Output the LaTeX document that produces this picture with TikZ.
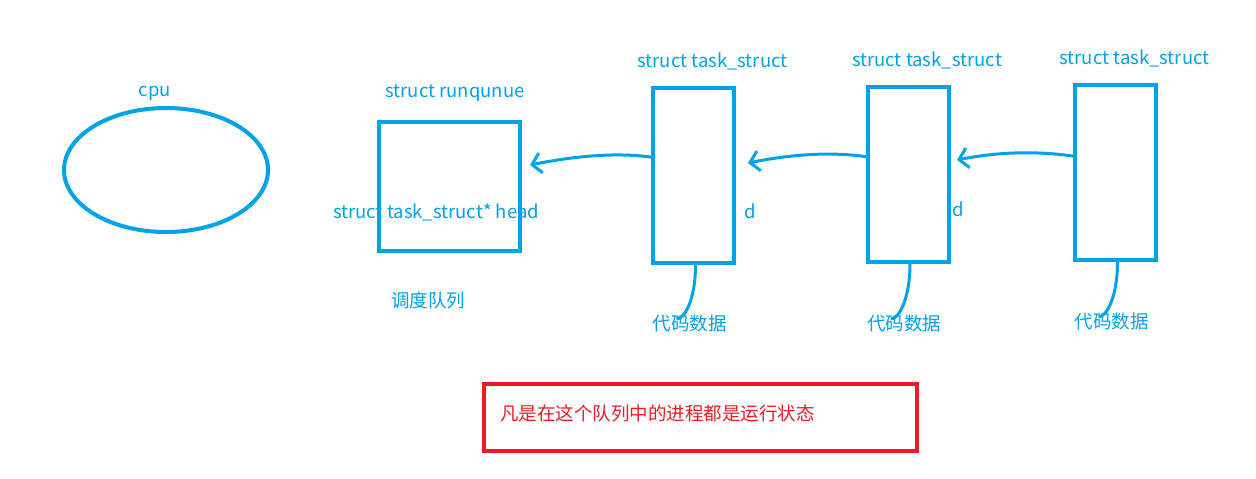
\documentclass[tikz,border=0pt]{standalone}
\usepackage{fontspec}
\setmainfont{Noto Sans CJK SC}
\usetikzlibrary{arrows.meta}
\definecolor{pb}{HTML}{00A2E8}
\definecolor{pr}{HTML}{ED1C24}
\begin{document}
\begin{tikzpicture}[x=1pt,y=-1pt,
  lbl/.style={text=pb,font=\fontsize{18.5}{21}\selectfont,inner sep=0pt},
  box/.style={draw=pb,line width=4pt,fill=white},
  arr/.style={draw=pb,line width=3pt,-{Straight Barb[length=9pt,width=20pt,line width=3pt]}},
  wig/.style={draw=pb,line width=3pt}]
\useasboundingbox (0,0) rectangle (1256,479);
\node[lbl] (cpul) at (155,93) {cpu};
\draw[pb,line width=4pt] (166,170) ellipse [x radius=102, y radius=62];
\node (cpu) at (166,170) {};
\node[lbl] (rql) at (455,93) {struct runqunue};
\node[lbl] (d1) at (750,211) {d};
\node[lbl] (d2) at (958,209) {d};
\node[box,minimum width=141pt,minimum height=129pt] (rq) at (449,186) {};
\node[lbl] (head) at (436,212) {struct task\_struct* head};
\node[lbl] (rqn) at (428,300) {调度队列};
\foreach \n/\x/\y/\ly/\dy in {a/693.5/175.5/61/323, b/908/174/60/323, c/1115.5/172.5/58/321}{
  \node[box,minimum width=81pt,minimum height=175pt] (\n) at (\x,\y) {};
  \node[lbl] (\n l) at (\x+19,\ly) {struct task\_struct};
  \node[lbl] (\n d) at (\x-4,\dy) {代码数据};
  \coordinate (\n e) at (\x-17,\dy-4);
}
\coordinate (ta) at (530,165);
\coordinate (tb) at (748,163);
\coordinate (tc) at (957,160);
\draw[arr] ([xshift=3pt,yshift=18pt]a.west) .. controls +(-40,-6) and +(40,-8) .. (ta);
\draw[arr] ([xshift=3pt,yshift=17pt]b.west) .. controls +(-40,-6) and +(40,-8) .. (tb);
\draw[arr] ([xshift=3pt,yshift=16pt]c.west) .. controls +(-40,-6) and +(40,-8) .. (tc);
\foreach \n in {a,b,c}{
  \draw[wig] ([xshift=2pt]\n.south) .. controls +(0,35) and +(8,0) .. (\n e);
}
\node[draw=pr,line width=4pt,minimum width=433pt,minimum height=67pt] (note) at (700,417) {};
\node[text=pr,font=\fontsize{18.5}{21}\selectfont,anchor=west,inner sep=0pt] (notet) at (500,413) {凡是在这个队列中的进程都是运行状态};
\end{tikzpicture}
\end{document}
